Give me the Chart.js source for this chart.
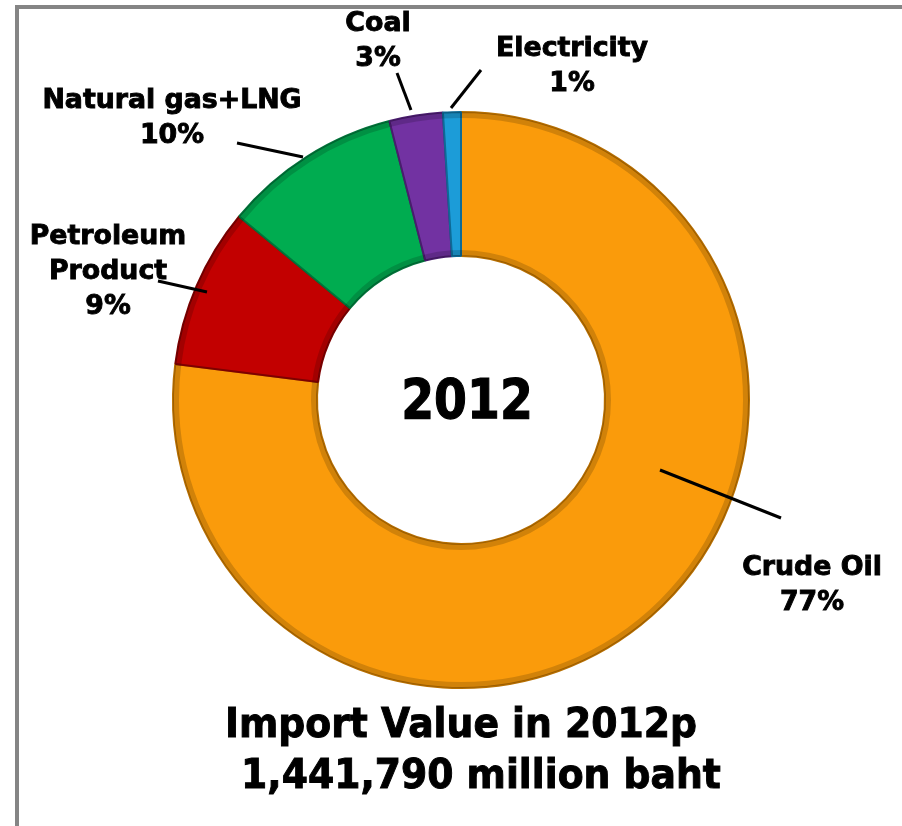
<!DOCTYPE html>
<html>
<head>
<meta charset="utf-8">
<title>Import Value in 2012p</title>
<script src="https://cdn.jsdelivr.net/npm/chart.js@4/dist/chart.umd.min.js"></script>
<style>
  html, body { margin: 0; padding: 0; background: #fff; }
  #wrap { position: relative; width: 902px; height: 826px; }
  #frame {
    position: absolute; left: 15px; top: 5px; right: 0; bottom: 0;
    border-left: 4px solid #858585; border-top: 4px solid #858585;
    pointer-events: none;
  }
</style>
</head>
<body>
<div id="wrap">
  <canvas id="importChart" width="902" height="826"></canvas>
  <div id="frame"></div>
</div>
<script>
// Données du graphique
const categories = ['Crude Oil', 'Petroleum Product', 'Natural gas+LNG', 'Coal', 'Electricity'];
const shares = [77, 9, 10, 3, 1];
const labelLines = [
  ['Crude Oil', '77%'],
  ['Petroleum', 'Product', '9%'],
  ['Natural gas+LNG', '10%'],
  ['Coal', '3%'],
  ['Electricity', '1%']
];
const centerText = '2012';
const footerLines = ['Import Value in 2012p', '1,441,790 million baht'];

const colors = ['#FA9B0B', '#C20000', '#00AC50', '#7232A2', '#1C9CD8'];
const edgeColors = ['#B86F00', '#7E0000', '#00743A', '#4A1C6E', '#0E6A96'];

// Position des étiquettes (ligne de base de la 1re ligne) et des traits, relative au centre
const labelLayout = [
  { x: 351, y: 175, line: [199, 70, 320, 118] },
  { x: -353, y: -156, line: [-303, -119, -254, -108] },
  { x: -289, y: -292, line: [-224, -257, -158, -243] },
  { x: -83, y: -369, line: [-64, -327, -50, -290] },
  { x: 111, y: -344, line: [20, -330, -10, -292] }
];

const FONT = '"DejaVu Sans", Verdana, sans-serif';

// Texte gras un peu plus épais, avec compression horizontale
function heavyText(ctx, text, x, y, sx, stroke) {
  ctx.save();
  ctx.translate(x, y);
  ctx.scale(sx, 1);
  ctx.fillText(text, 0, 0);
  ctx.lineWidth = stroke;
  ctx.strokeText(text, 0, 0);
  ctx.restore();
}

// Effet de relief sur les bords des segments
const bevelPlugin = {
  id: 'bevel',
  afterDatasetsDraw(chart) {
    const ctx = chart.ctx;
    chart.getDatasetMeta(0).data.forEach(arc => {
      const p = arc.getProps(['x', 'y', 'startAngle', 'endAngle', 'innerRadius', 'outerRadius'], true);
      ctx.save();
      ctx.beginPath();
      ctx.arc(p.x, p.y, p.outerRadius, p.startAngle, p.endAngle);
      ctx.arc(p.x, p.y, p.innerRadius, p.endAngle, p.startAngle, true);
      ctx.closePath();
      ctx.clip();
      ctx.lineWidth = 12;
      ctx.strokeStyle = 'rgba(0,0,0,0.16)';
      ctx.beginPath();
      ctx.arc(p.x, p.y, p.outerRadius, p.startAngle, p.endAngle);
      ctx.stroke();
      ctx.beginPath();
      ctx.arc(p.x, p.y, p.innerRadius, p.startAngle, p.endAngle);
      ctx.stroke();
      ctx.restore();
    });
  }
};

// Étiquettes, traits de rappel et textes
const labelPlugin = {
  id: 'labels',
  afterDraw(chart) {
    const ctx = chart.ctx;
    const arc0 = chart.getDatasetMeta(0).data[0];
    const cx = arc0.x;
    const cy = arc0.y;

    ctx.save();
    ctx.fillStyle = '#000';
    ctx.strokeStyle = '#000';
    ctx.textAlign = 'center';
    ctx.textBaseline = 'alphabetic';

    ctx.font = 'bold 26px ' + FONT;
    labelLines.forEach((lines, i) => {
      const lay = labelLayout[i];
      const lineH = 35;
      lines.forEach((t, k) => heavyText(ctx, t, cx + lay.x, cy + lay.y + k * lineH, 1.03, 0.9));
      const l = lay.line;
      ctx.lineWidth = 3;
      ctx.beginPath();
      ctx.moveTo(cx + l[0], cy + l[1]);
      ctx.lineTo(cx + l[2], cy + l[3]);
      ctx.stroke();
    });

    ctx.font = 'bold 55px ' + FONT;
    heavyText(ctx, centerText, cx + 6, cy + 18, 0.86, 1.2);

    ctx.font = 'bold 41px ' + FONT;
    heavyText(ctx, footerLines[0], cx, cy + 337, 0.92, 1);
    heavyText(ctx, footerLines[1], cx + 20, cy + 388, 0.92, 1);
    ctx.restore();
  }
};

new Chart(document.getElementById('importChart'), {
  type: 'doughnut',
  data: {
    labels: categories,
    datasets: [{
      data: shares,
      backgroundColor: colors,
      borderColor: edgeColors,
      borderWidth: 2,
      hoverOffset: 0
    }]
  },
  options: {
    responsive: false,
    animation: false,
    cutout: '50%',
    rotation: 0,
    layout: { padding: { left: 172, right: 152, top: 111, bottom: 137 } },
    plugins: {
      legend: { display: false },
      tooltip: { enabled: false }
    }
  },
  plugins: [bevelPlugin, labelPlugin]
});
</script>
</body>
</html>
